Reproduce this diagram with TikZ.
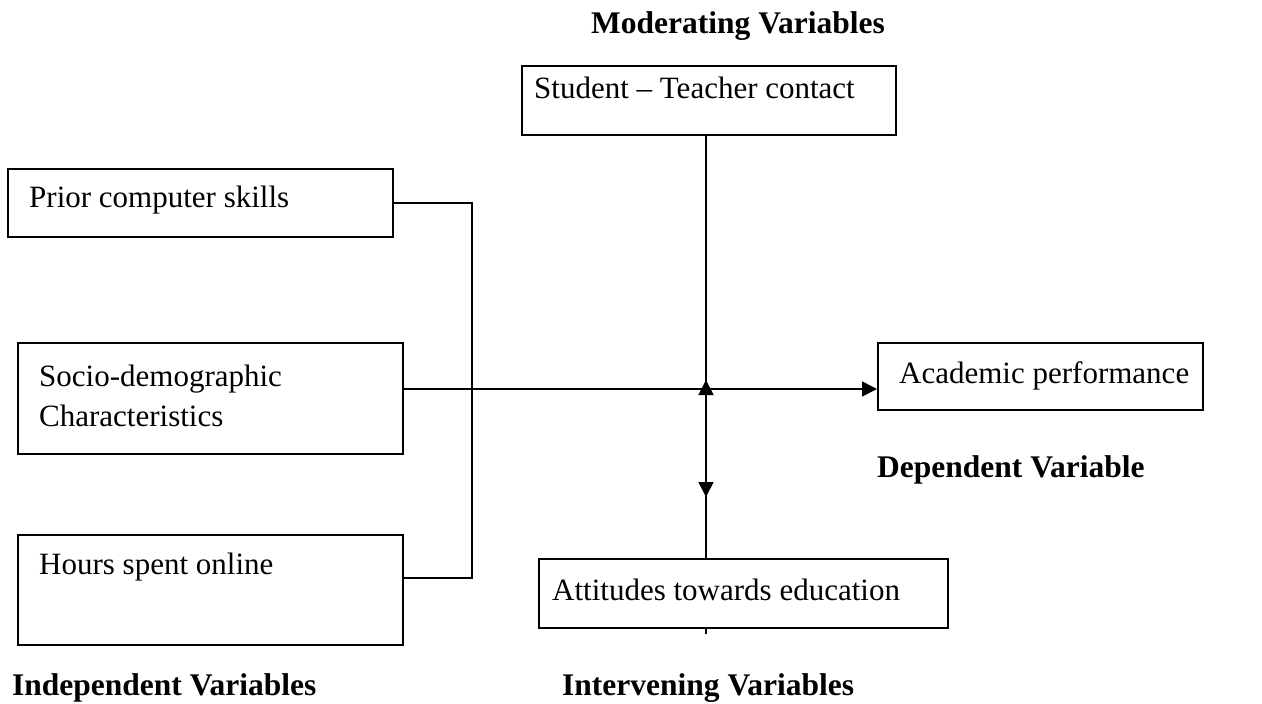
\documentclass[tikz,border=0pt]{standalone}
\usepackage{fontspec}
\setmainfont{Liberation Serif}
\usetikzlibrary{arrows.meta}
\tikzset{
  box/.style={draw, line width=1.6pt, rectangle, inner sep=0pt, anchor=north west},
  txt/.style={anchor=base west, inner sep=0pt, font=\fontsize{31}{39.5}\selectfont},
  lbl/.style={anchor=base west, inner sep=0pt, font=\fontsize{31.5}{40}\selectfont\bfseries},
  conn/.style={line width=1.6pt},
  arr/.style={line width=1.6pt, -{Triangle[length=15pt,width=15pt]}}
}
\begin{document}
\begin{tikzpicture}[x=1pt,y=-1pt]
\useasboundingbox (0,0) rectangle (1262,704);
% labels
\node[lbl, anchor=base] (modl) at (738,34) {Moderating Variables};
\node[lbl] (depl) at (877,477) {Dependent Variable};
\node[lbl] (indl) at (12,695) {Independent Variables};
\node[lbl] (intl) at (562,695) {Intervening Variables};
% boxes
\node[box, minimum width=374pt, minimum height=69pt] (stud) at (521,65) {};
\node[txt] (studt) at (534,98) {Student -- Teacher contact};
\node[box, minimum width=385pt, minimum height=68pt] (prior) at (7,168) {};
\node[txt] (priort) at (29,207) {Prior computer skills};
\node[box, minimum width=385pt, minimum height=111pt] (socio) at (17,342) {};
\node[txt, align=left] (sociot) at (39,426) {Socio-demographic\\Characteristics};
\node[box, minimum width=385pt, minimum height=110pt] (hours) at (17,534) {};
\node[txt] (hourst) at (39,574) {Hours spent online};
\node[box, minimum width=325pt, minimum height=67pt] (acad) at (877,342) {};
\node[txt] (acadt) at (899,383) {Academic performance};
\node[box, minimum width=409pt, minimum height=69pt] (att) at (538,558) {};
\node[txt] (attt) at (552,600) {Attitudes towards education};
% coordinates
\coordinate (bt) at (472,203);
\coordinate (bb) at (472,578);
\coordinate (down) at (706,497);
\coordinate (up) at (706,380);
\coordinate (tick) at (706,634);
% connectors
\draw[conn] (prior.east |- bt) -- (bt) -- (bb) -- (hours.east |- bb);
\draw[arr] (socio.east |- 0,389) -- (acad.west |- 0,389);
\draw[arr] (stud.south -| down) -- (down);
\draw[arr] (att.north -| up) -- (up);
\draw[conn] (att.south -| tick) -- (tick);
\end{tikzpicture}
\end{document}
